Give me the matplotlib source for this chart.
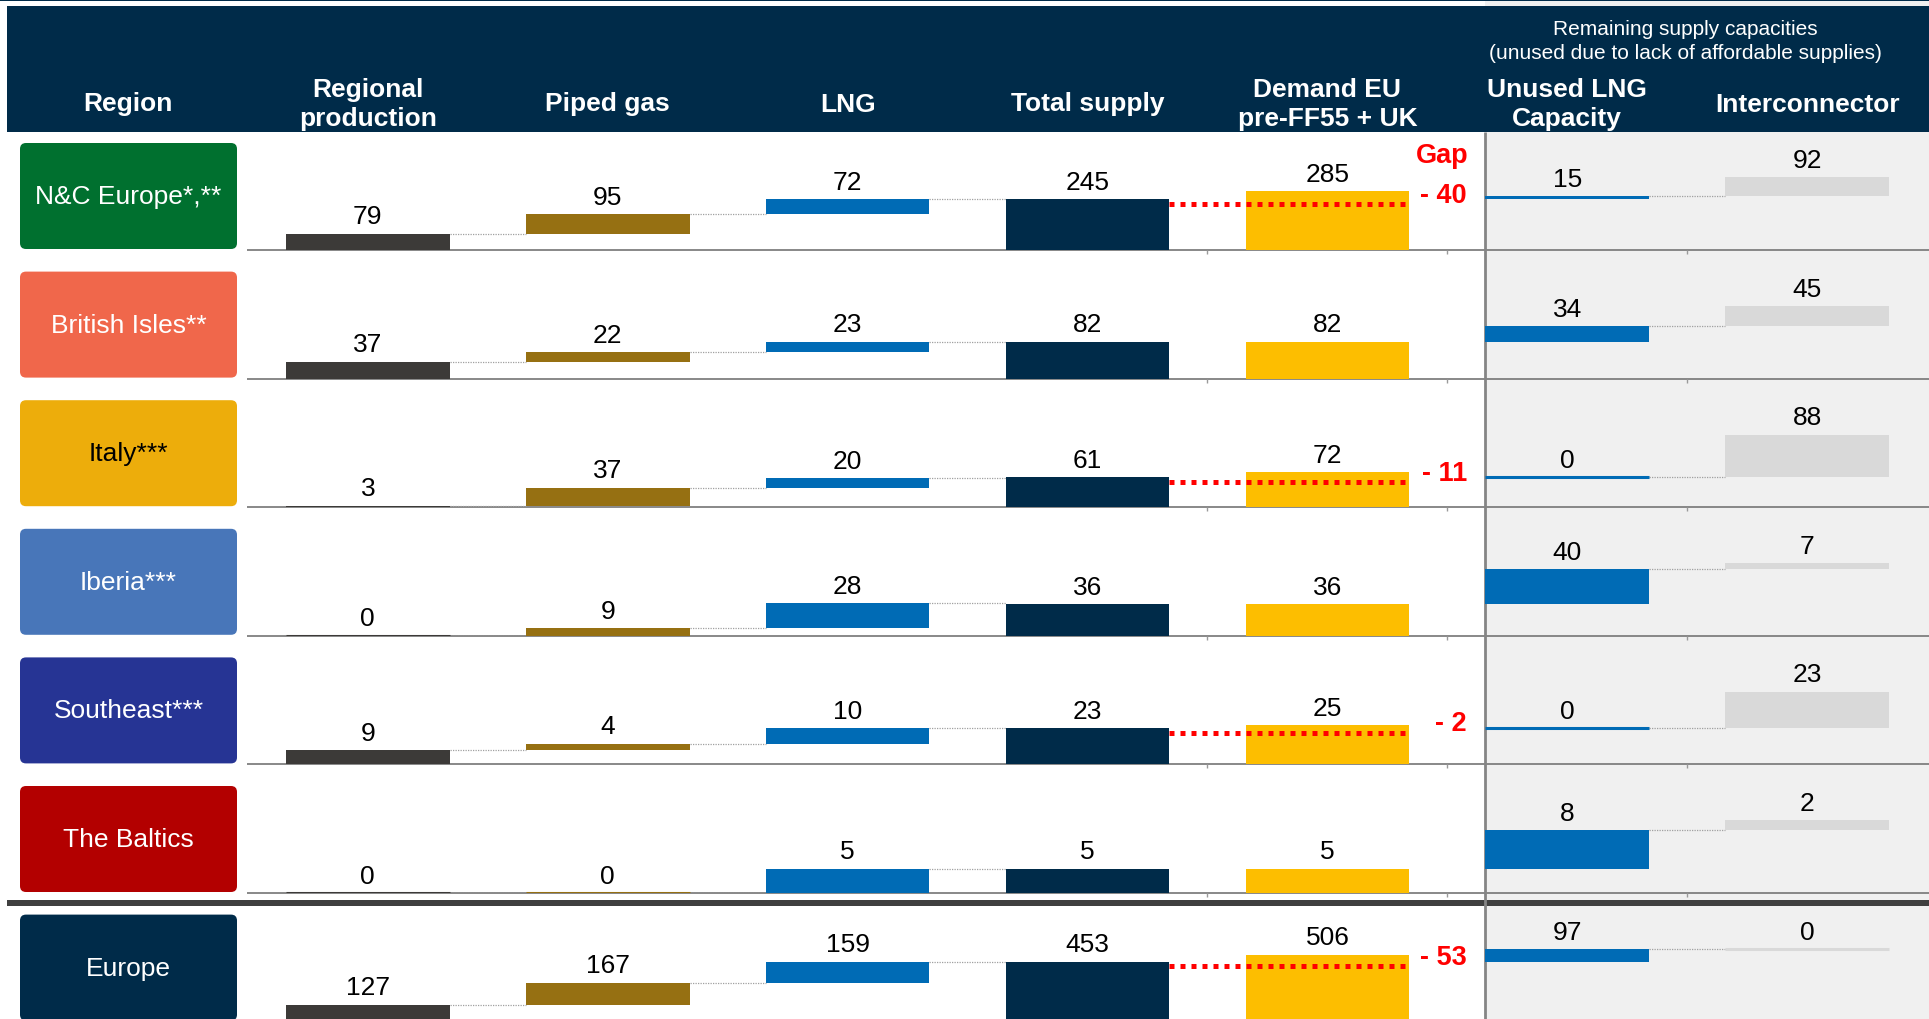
import matplotlib
matplotlib.use('Agg')
import matplotlib.pyplot as plt
from matplotlib.patches import Rectangle, FancyBboxPatch
import matplotlib.transforms as mtransforms

plt.rcParams['font.family'] = ['Liberation Sans', 'DejaVu Sans']

# ---------------- data ----------------
regions = ["N&C Europe*,**", "British Isles**", "Italy***", "Iberia***",
           "Southeast***", "The Baltics", "Europe"]
region_colors = ["#00702f", "#f0674b", "#edad0b", "#4876b9", "#263494", "#b30000", "#002b49"]
region_text_colors = ["white", "white", "black", "white", "white", "white", "white"]

regional_production = [79, 37, 3, 0, 9, 0, 127]
piped_gas = [95, 22, 37, 9, 4, 0, 167]
lng = [72, 23, 20, 28, 10, 5, 159]
total_supply = [245, 82, 61, 36, 23, 5, 453]
demand = [285, 82, 72, 36, 25, 5, 506]
unused_lng = [15, 34, 0, 40, 0, 8, 97]
interconnector = [92, 45, 88, 7, 23, 2, 0]

headers = ["Region", "Regional\nproduction", "Piped gas", "LNG", "Total supply",
           "Demand EU\npre-FF55 + UK", "Unused LNG\nCapacity", "Interconnector"]
panel_title = "Remaining supply capacities\n(unused due to lack of affordable supplies)"

bar_colors = ["#3c3a38", "#967012", "#006bb5", "#002b49", "#fdbe00", "#006bb5", "#d9d9d9"]

# ---------------- layout (pixels) ----------------
W, H = 1929, 1020
NAVY = "#002b49"
x0_px, dx_px = 367.8, 239.9     # centre of first bar column, column pitch
bar_w = 0.682
row0, row_dy = 251.0, 128.6     # first baseline, row pitch
bar_span_px = 72.6              # pixels used by the row maximum
panel_x = 1485

fig = plt.figure(figsize=(W / 100, H / 100), dpi=100)
bg = fig.add_axes([0, 0, 1, 1])
bg.set_xlim(0, W)
bg.set_ylim(H, 0)
bg.axis('off')
bg.set_zorder(0)

# right grey panel
bg.add_patch(Rectangle((panel_x, 0), W - panel_x, H, facecolor="#f0f0f0", edgecolor='none'))
# header band
bg.add_patch(Rectangle((0, 0), W, 2, facecolor=NAVY, edgecolor='none'))
bg.add_patch(Rectangle((7, 7), W - 7, 126, facecolor=NAVY, edgecolor='none'))

header_x = [128] + [x0_px + dx_px * k for k in range(7)]
for hx, txt in zip(header_x, headers):
    bg.text(hx, 104.5, txt, color='white', fontsize=19, fontweight='bold',
            ha='center', va='center', linespacing=1.3)
bg.text(1685, 41.5, panel_title, color='white', fontsize=15, ha='center', va='center',
        linespacing=1.32)

n = len(regions)
for i in range(n):
    base = row0 + row_dy * i
    if i < n - 1:
        bg.hlines(base, 247, W, color="#7f7f7f", lw=1.3, zorder=1)
        for k in range(3, 6):
            bg.vlines(x0_px + (k + 0.5) * dx_px, base, base + 4, color="#9a9a9a", lw=1, zorder=1)
    # region box
    bg.add_patch(FancyBboxPatch((20, base - 107), 217, 106,
                                boxstyle="round,pad=0,rounding_size=6",
                                facecolor=region_colors[i], edgecolor='none', zorder=2))
    bg.text(128.5, base - 54, regions[i], color=region_text_colors[i], fontsize=19,
            ha='center', va='center', zorder=3)

# separator and panel divider
bg.add_patch(Rectangle((7, 901), W - 7, 6, facecolor="#3f3f3f", edgecolor='none', zorder=3))
bg.vlines(panel_x, 133, H, color="#858585", lw=2, zorder=4)

# ---------------- rows of waterfall bars ----------------
for i in range(n):
    base = row0 + row_dy * i
    vals = [regional_production[i], piped_gas[i], lng[i], total_supply[i],
            demand[i], unused_lng[i], interconnector[i]]
    rp, pg, ln, tot = vals[0], vals[1], vals[2], vals[3]
    bottoms = [0, rp, rp + pg, 0, 0, tot, tot + unused_lng[i]]
    rowmax = max(b + v for b, v in zip(bottoms, vals))

    ax = fig.add_axes([0, (H - base) / H, 1, row_dy / H])
    ax.set_xlim(-x0_px / dx_px, (W - x0_px) / dx_px)
    ax.set_ylim(0, rowmax * row_dy / bar_span_px)
    ax.axis('off')
    ax.patch.set_alpha(0)
    ax.set_zorder(1 + i)

    xs = list(range(7))
    for x, b, v, c in zip(xs, bottoms, vals, bar_colors):
        if v > 0:
            ax.bar(x, v, bottom=b, width=bar_w, color=c, linewidth=0, zorder=3)
        else:
            ax.hlines(b, x - bar_w / 2, x + bar_w / 2, color=c, lw=2.2, zorder=3)
        ax.annotate(str(v), (x, b + v), xytext=(0, 7.5), textcoords='offset points',
                    ha='center', va='baseline', fontsize=19, color='black', zorder=5)

    # waterfall connectors
    conn = [(0, 1, rp), (1, 2, rp + pg), (2, 3, rp + pg + ln), (5, 6, tot + unused_lng[i])]
    for a, b_, lvl in conn:
        ax.hlines(lvl, a + bar_w / 2, b_ - bar_w / 2, color="#a0a0a0", lw=0.9,
                  linestyles=(0, (1, 1)), zorder=2)

    gap = tot - demand[i]
    if gap != 0:
        tr = mtransforms.offset_copy(ax.transData, fig=fig, y=-4.5, units='dots')
        ax.plot([3 + bar_w / 2, 4 + bar_w / 2], [tot, tot], color='#ff0000', lw=3.6,
                linestyle=(0, (1, 1.2)), transform=tr, zorder=4)
        ax.annotate(f"- {abs(gap)}", (4 + bar_w / 2, tot), xytext=(41.6, 3.5),
                    textcoords='offset points', ha='right', va='center',
                    fontsize=19.5, fontweight='bold', color='#ff0000', zorder=5)
        if i == 0:
            ax.annotate("Gap", (4 + bar_w / 2, tot), xytext=(42.5, 32),
                        textcoords='offset points', ha='right', va='center',
                        fontsize=19.5, fontweight='bold', color='#ff0000', zorder=5)

fig.savefig("out.png", dpi=100)
